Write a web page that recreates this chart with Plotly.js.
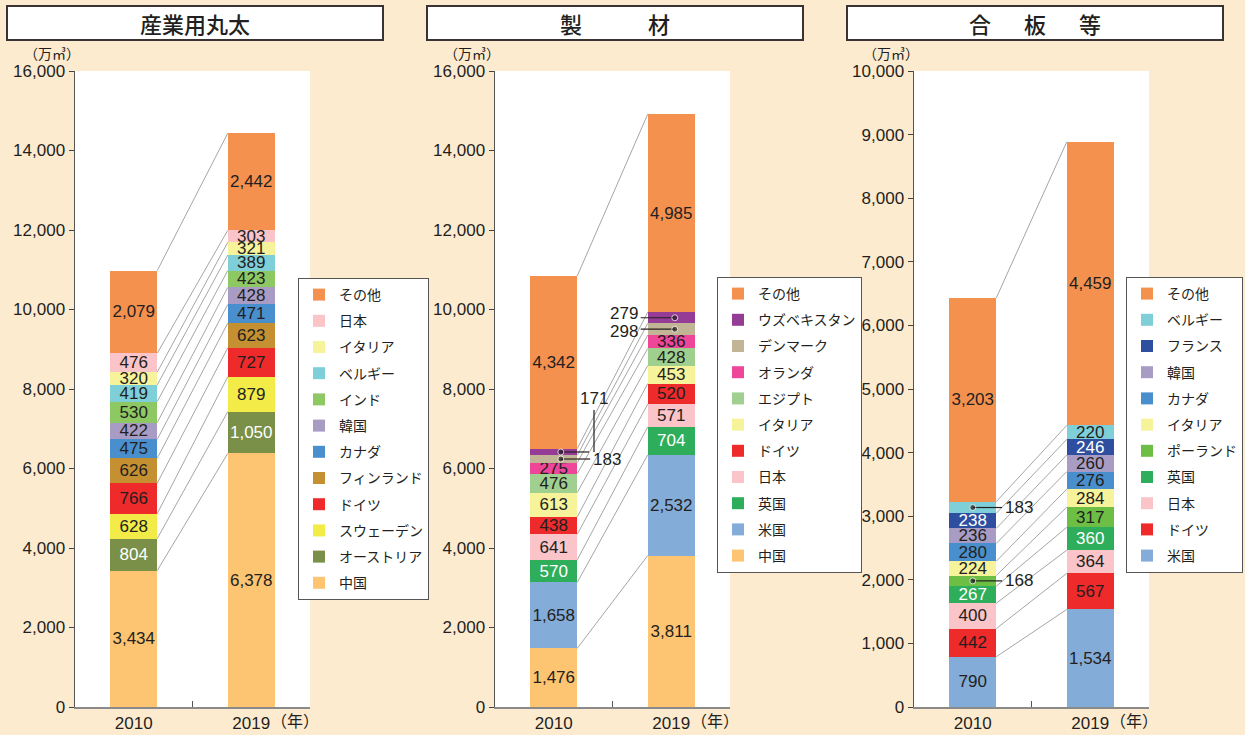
<!DOCTYPE html>
<html>
<head>
<meta charset="utf-8">
<script src="https://cdn.plot.ly/plotly-3.0.1.min.js"></script>
<style>
  html, body { margin: 0; padding: 0; background: #FDEBD0; }
  #chart { width: 1245px; height: 735px; }
</style>
</head>
<body>
<div id="chart"></div>
<script>
// ---------- data ----------
const years = ['2010', '2019'];

// 産業用丸太 (bottom -> top)
const logNames  = ['中国','オーストリア','スウェーデン','ドイツ','フィンランド','カナダ','韓国','インド','ベルギー','イタリア','日本','その他'];
const log2010   = [3434, 804, 628, 766, 626, 475, 422, 530, 419, 320, 476, 2079];
const log2019   = [6378, 1050, 879, 727, 623, 471, 428, 423, 389, 321, 303, 2442];
const logTotals = [10977, 14437];
const logColors = ['#FDC472','#7A8F47','#F2EB48','#EE2A2B','#C49032','#4A8FCD','#A89CC5','#8DC863','#7ECFD8','#F7F39A','#FBC4C8','#F4914F'];

// 製材
const lumNames  = ['中国','米国','英国','日本','ドイツ','イタリア','エジプト','オランダ','デンマーク','ウズベキスタン','その他'];
const lum2010   = [1476, 1658, 570, 641, 438, 613, 476, 275, 183, 171, 4342];
const lum2019   = [3811, 2532, 704, 571, 520, 453, 428, 336, 298, 279, 4985];
const lumTotals = [10844, 14917];
const lumColors = ['#FDC472','#84ACD8','#2EAE5B','#FBC4C8','#EE2A2B','#F7F39A','#9FD08F','#EE4699','#C2B595','#953D96','#F4914F'];

// 合板等
const plyNames  = ['米国','ドイツ','日本','英国','ポーランド','イタリア','カナダ','韓国','フランス','ベルギー','その他'];
const ply2010   = [790, 442, 400, 267, 168, 224, 280, 236, 238, 183, 3203];
const ply2019   = [1534, 567, 364, 360, 317, 284, 276, 260, 246, 220, 4459];
const plyTotals = [6432, 8886];
const plyColors = ['#84ACD8','#EE2A2B','#FBC4C8','#2EAE5B','#6DBE45','#F7F39A','#4A8FCD','#A89CC5','#2E4E9F','#7ECFD8','#F4914F'];

// ---------- styling ----------
const W = 1245, H = 735;
const FONT = "'Liberation Sans', Arial, 'Noto Sans CJK JP', sans-serif";
const JFONT = "'Noto Sans CJK JP', sans-serif";
const INK = '#231F20';
const BAR_W = 0.4;
const NUM_SIZE = 17;
const px = v => v / W;
const py = v => 1 - v / H;
const fmt = v => v.toLocaleString('en-US');

const traces = [];
const annotations = [];
const shapes = [];

function addPanel(p) {
  const n = p.names.length;
  const extKey = {};
  p.external.forEach(e => { extKey[e.idx + '_' + e.yr] = e; });
  // bars
  for (let i = 0; i < n; i++) {
    const vals = [p.v2010[i], p.v2019[i]];
    traces.push({
      type: 'bar', x: years, y: vals, name: p.names[i],
      xaxis: p.xa, yaxis: p.ya, legend: p.legend, legendgroup: p.legend + '_' + i,
      legendrank: 1000 - i,
      width: BAR_W,
      marker: { color: p.colors[i], line: { width: 0 } },
      text: vals.map((v, j) => extKey[i + '_' + j] ? '' : fmt(v)),
      textposition: 'inside', insidetextanchor: 'middle', textangle: 0,
      constraintext: 'none',
      textfont: { family: FONT, size: NUM_SIZE, color: p.white.includes(p.names[i]) ? '#FFFFFF' : INK },
      hoverinfo: 'skip', cliponaxis: false
    });
  }
  // connector lines between cumulative tops
  const lx = [], ly = [];
  let c0 = 0, c1 = 0;
  const cumBefore = [[], []];
  for (let i = 0; i < n; i++) {
    cumBefore[0].push(c0); cumBefore[1].push(c1);
    c0 += p.v2010[i]; c1 += p.v2019[i];
    lx.push(BAR_W / 2, 1 - BAR_W / 2, null);
    ly.push(c0, c1, null);
  }
  traces.push({
    type: 'scatter', mode: 'lines', x: lx, y: ly, xaxis: p.ov, yaxis: p.ya,
    line: { color: '#9B9B9B', width: 0.9 }, showlegend: false, hoverinfo: 'skip'
  });
  // totals
  p.totals.forEach((t, j) => {
    annotations.push({ xref: p.xa, yref: p.ya, x: years[j], y: t, text: fmt(t),
      showarrow: false, yanchor: 'bottom', yshift: 0, font: { family: FONT, size: NUM_SIZE, color: INK } });
  });
  // external small labels with leaders
  p.external.forEach(e => {
    const v = e.yr === 0 ? p.v2010[e.idx] : p.v2019[e.idx];
    const mid = cumBefore[e.yr][e.idx] + v / 2;
    const base = e.yr;
    const dir = e.side === 'right' ? 1 : -1;
    const x0 = base + dir * e.dot, x1 = base + dir * e.reach;
    traces.push({
      type: 'scatter', mode: 'lines+markers', x: [x0, x1], y: [mid, mid],
      xaxis: p.ov, yaxis: p.ya,
      line: { color: INK, width: 1.2 }, marker: { color: INK, size: [6, 0] },
      showlegend: false, hoverinfo: 'skip', cliponaxis: false
    });
    if (e.elbow) {
      annotations.push({ xref: p.ov, yref: p.ya, x: x1, y: mid, ax: 0, ay: -e.elbow,
        text: fmt(v), showarrow: true, arrowhead: 0, arrowwidth: 1.2, arrowcolor: INK,
        xanchor: 'center', yanchor: 'bottom', xshift: 5,
        font: { family: FONT, size: NUM_SIZE, color: INK } });
    } else {
      annotations.push({ xref: p.ov, yref: p.ya, x: x1, y: mid, text: fmt(v), showarrow: false,
        xanchor: dir > 0 ? 'left' : 'right', xshift: dir * 1, yshift: e.shift || 0,
        font: { family: FONT, size: NUM_SIZE, color: INK } });
    }
  });
}

addPanel({ names: logNames, v2010: log2010, v2019: log2019, totals: logTotals, colors: logColors,
  white: ['オーストリア'], external: [], xa: 'x', ya: 'y', ov: 'x4', legend: 'legend' });
addPanel({ names: lumNames, v2010: lum2010, v2019: lum2019, totals: lumTotals, colors: lumColors,
  white: ['英国'],
  external: [
    { idx: 9, yr: 0, side: 'right', dot: 0.06, reach: 0.30, elbow: 42 },
    { idx: 8, yr: 0, side: 'right', dot: 0.06, reach: 0.31 },
    { idx: 9, yr: 1, side: 'left', dot: -0.03, reach: 0.26, shift: 4 },
    { idx: 8, yr: 1, side: 'left', dot: -0.03, reach: 0.26, shift: -2 }
  ], xa: 'x2', ya: 'y2', ov: 'x5', legend: 'legend2' });
addPanel({ names: plyNames, v2010: ply2010, v2019: ply2019, totals: plyTotals, colors: plyColors,
  white: ['英国','フランス'],
  external: [
    { idx: 9, yr: 0, side: 'right', dot: 0.0, reach: 0.25 },
    { idx: 4, yr: 0, side: 'right', dot: 0.0, reach: 0.25 }
  ], xa: 'x3', ya: 'y3', ov: 'x6', legend: 'legend3' });

// ---------- axes ----------
const yDom = [28 / H, 664 / H];
function xAxis(d, yref) {
  return { domain: d, anchor: yref, type: 'category', range: [-0.5, 1.5], tickson: 'boundaries',
    ticks: 'inside', ticklen: 6, tickwidth: 1, tickcolor: '#555', showline: true, linecolor: '#8A8A8A',
    linewidth: 2, showgrid: false, tickfont: { family: FONT, size: NUM_SIZE, color: INK }, fixedrange: true };
}
function yAxis(xref, max, dt) {
  return { domain: yDom, anchor: xref, range: [0, max], dtick: dt, tickformat: ',d', ticks: 'outside',
    ticklen: 5, tickwidth: 1, tickcolor: '#444', showline: true, linecolor: '#555', linewidth: 1.5,
    showgrid: false, zeroline: false, tickfont: { family: FONT, size: NUM_SIZE, color: INK }, fixedrange: true };
}
function ovAxis(base, yref) {
  return { overlaying: base, anchor: yref, range: [-0.5, 1.5], visible: false, fixedrange: true };
}
const d1 = [px(75), px(310)], d2 = [px(495), px(730)], d3 = [px(914), px(1149)];

function legendCfg(x, y, anchor) {
  return { x: x, y: y, xanchor: anchor, yanchor: 'top', xref: 'paper', yref: 'paper',
    bgcolor: '#FFFFFF', bordercolor: '#555', borderwidth: 1,
    traceorder: 'grouped', tracegroupgap: 5,
    font: { family: JFONT, size: 14, color: INK } };
}

// titles, boxes, units, year suffix
[[7, 383, '産業用丸太'], [427, 803, '製\u3000\u3000\u3000材'], [847, 1223, '合\u3000\u2002板\u3000\u2002等']].forEach(t => {
  shapes.push({ type: 'rect', xref: 'paper', yref: 'paper', x0: px(t[0]), x1: px(t[1]), y0: py(40), y1: py(6),
    fillcolor: '#FFFFFF', line: { color: '#3A3333', width: 2 } });
  annotations.push({ xref: 'paper', yref: 'paper', x: px((t[0] + t[1]) / 2), y: py(23), text: t[2],
    showarrow: false, xanchor: 'center', yanchor: 'middle',
    font: { family: JFONT, size: 22, color: INK, weight: 500 } });
});
[52, 472, 891].forEach(u => {
  annotations.push({ xref: 'paper', yref: 'paper', x: px(u), y: py(53), text: '（万㎥）',
    showarrow: false, xanchor: 'center', yanchor: 'middle', font: { family: JFONT, size: 14, color: INK } });
});
[['x4', 'y'], ['x5', 'y2'], ['x6', 'y3']].forEach(a => {
  annotations.push({ xref: a[0], yref: 'paper', x: 1.5, y: py(720), text: '（年）', showarrow: false,
    xanchor: 'center', yanchor: 'middle', xshift: -15, font: { family: JFONT, size: 16, color: INK } });
});

const layout = {
  width: W, height: H, margin: { l: 0, r: 0, t: 0, b: 0 },
  paper_bgcolor: '#FDEBD0', plot_bgcolor: '#FFFFFF',
  barmode: 'stack', showlegend: true, hovermode: false,
  font: { family: FONT, color: INK },
  xaxis: xAxis(d1, 'y'), yaxis: yAxis('x', 16000, 2000),
  xaxis2: xAxis(d2, 'y2'), yaxis2: yAxis('x2', 16000, 2000),
  xaxis3: xAxis(d3, 'y3'), yaxis3: yAxis('x3', 10000, 1000),
  xaxis4: ovAxis('x', 'y'), xaxis5: ovAxis('x2', 'y2'), xaxis6: ovAxis('x3', 'y3'),
  legend: legendCfg(px(298), py(278), 'left'),
  legend2: legendCfg(px(717), py(277), 'left'),
  legend3: legendCfg(px(1243), py(277), 'right'),
  annotations: annotations, shapes: shapes
};

Plotly.newPlot('chart', traces, layout, { staticPlot: true, displayModeBar: false });
</script>
</body>
</html>
